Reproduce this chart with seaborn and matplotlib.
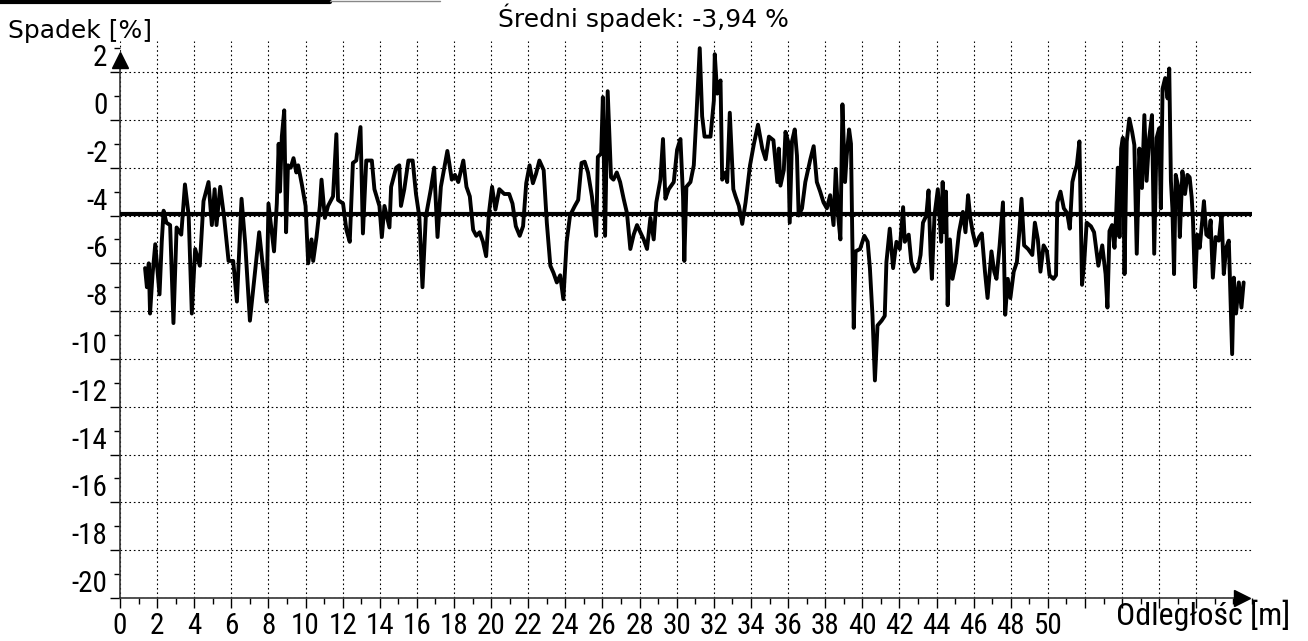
import os
import glob
import matplotlib
matplotlib.use("Agg")
import matplotlib.pyplot as plt
import numpy as np
import pandas as pd
import seaborn as sns
from matplotlib import font_manager
from matplotlib.font_manager import FontProperties
from matplotlib.lines import Line2D
from matplotlib.ticker import MultipleLocator

# ---------------- data ----------------
distance = [
    1.35, 1.45, 1.55, 1.62, 1.75, 1.9, 2.05, 2.13, 2.25, 2.35, 2.5, 2.7, 2.88, 3.05, 3.3, 3.5, 3.7, 3.87,
    4.05, 4.3, 4.5, 4.77, 4.95, 5.1, 5.2, 5.4, 5.6, 5.85, 6.1, 6.3, 6.55, 6.75, 7.0, 7.3, 7.5, 7.9,
    8.0, 8.3, 8.45, 8.55, 8.62, 8.72, 8.85,
    8.95, 9.05, 9.2, 9.35, 9.5, 9.6, 9.8, 10.0, 10.14, 10.32, 10.41, 10.59, 10.77, 10.86, 11.04, 11.21,
    11.48, 11.66, 11.75, 12.02, 12.2, 12.38, 12.55, 12.73, 12.96, 13.09, 13.27, 13.57, 13.71, 13.98,
    14.11, 14.25, 14.52, 14.61, 14.88, 15.05, 15.14, 15.32, 15.54, 15.77, 15.95, 16.13, 16.3, 16.48,
    16.75, 16.93, 17.11, 17.29, 17.64,
    17.88, 18.05, 18.23, 18.5, 18.67, 18.85, 19.03, 19.2, 19.38, 19.56, 19.73, 19.88, 20.05, 20.23,
    20.44, 20.71, 20.97, 21.15, 21.33, 21.54, 21.72, 21.89, 22.07, 22.25, 22.42, 22.6, 22.83, 23.0,
    23.19, 23.36, 23.54, 23.72, 23.89, 24.07, 24.25, 24.51, 24.69, 24.87, 25.04, 25.22, 25.43, 25.66,
    25.75, 25.93, 26.02, 26.14, 26.28, 26.46,
    26.59, 26.77, 26.95, 27.14, 27.32, 27.5, 27.68, 27.86, 28.04, 28.22, 28.4, 28.58, 28.76, 28.9,
    29.12, 29.26, 29.39, 29.57, 29.84, 30.02, 30.2, 30.34, 30.41, 30.52, 30.74, 30.92, 31.06, 31.24,
    31.37, 31.5, 31.82, 32.0, 32.05, 32.18, 32.36, 32.45, 32.63, 32.72, 32.86, 33.05, 33.17, 33.35,
    33.53, 33.71, 33.95, 34.16, 34.38, 34.61, 34.79, 34.97, 35.21, 35.42,
    35.5, 35.59, 35.77, 35.86, 36.0, 36.09, 36.21, 36.36, 36.48, 36.57, 36.75, 36.93, 37.2, 37.38,
    37.55, 37.73, 37.91, 38.09, 38.27, 38.45, 38.57, 38.71, 38.82, 38.93, 39.07, 39.16, 39.29, 39.39,
    39.46, 39.54, 39.64, 39.88, 40.11, 40.29, 40.41, 40.55, 40.68, 40.82, 41.04, 41.21, 41.3, 41.48,
    41.66, 41.84, 42.02, 42.2, 42.29, 42.5, 42.64, 42.82, 43.0, 43.14, 43.27, 43.45, 43.57, 43.68,
    43.75, 43.89, 44.07, 44.25,
    44.33, 44.42, 44.51, 44.6, 44.72, 44.86, 45.04, 45.21, 45.42, 45.56, 45.7, 45.82, 45.95, 46.12,
    46.3, 46.44, 46.61, 46.75, 46.96, 47.11, 47.23, 47.4, 47.58, 47.7, 47.84, 47.98, 48.16, 48.33,
    48.46, 48.58, 48.72, 48.93, 49.16, 49.3, 49.46, 49.6, 49.77, 49.95, 50.09, 50.3, 50.44, 50.51,
    50.68, 50.86, 51.04, 51.18, 51.32, 51.44, 51.56, 51.7, 51.84, 51.96, 52.09, 52.32, 52.49, 52.72,
    52.93,
    53.11, 53.21, 53.32, 53.46, 53.59, 53.68, 53.77, 53.86, 53.95, 54.04, 54.13, 54.25, 54.39, 54.54,
    54.66, 54.79, 54.93, 55.07, 55.2, 55.32, 55.46, 55.61, 55.73, 55.86, 56.0, 56.09, 56.18, 56.32,
    56.45, 56.54, 56.63, 56.71, 56.8, 56.89, 57.04, 57.11, 57.25, 57.39, 57.52, 57.64, 57.75, 57.82,
    57.93, 58.05, 58.18, 58.32, 58.41, 58.54, 58.68, 58.77, 58.89, 59.04, 59.21, 59.36, 59.48, 59.61,
    59.75, 59.93, 60.02, 60.14, 60.29, 60.43, 60.55,
]
slope = [
    -6.2, -7.0, -6.0, -8.1, -6.5, -5.2, -6.6, -7.3, -5.1, -3.8, -4.3, -4.4, -8.5, -4.5, -4.8, -2.7, -4.0, -8.1,
    -5.4, -6.1, -3.4, -2.6, -4.4, -2.9, -4.4, -2.8, -4.0, -5.9, -5.9, -7.6, -3.3, -5.2, -8.4, -6.2, -4.7, -7.6,
    -3.5, -5.5, -3.5, -1.0, -3.0, -0.7, 0.4,
    -4.7, -1.9, -2.0, -1.6, -2.2, -1.9, -2.7, -3.6, -6.0, -5.0, -5.9, -4.9, -3.6, -2.5, -4.1, -3.6,
    -3.2, -0.6, -3.35, -3.5, -4.6, -5.1, -1.8, -1.7, -0.3, -4.75, -1.7, -1.7, -2.9, -3.6,
    -4.9, -3.6, -4.5, -2.8, -2.0, -1.9, -3.6, -2.9, -1.7, -1.7, -3.1, -4.05, -7.0, -4.05,
    -2.9, -2.0, -4.9, -2.8, -1.3,
    -2.5, -2.3, -2.6, -1.7, -2.8, -3.2, -4.6, -4.85, -4.7, -5.1, -5.7, -3.9, -2.8, -3.75,
    -2.9, -3.1, -3.1, -3.5, -4.45, -4.85, -4.45, -2.65, -1.9, -2.65, -2.25, -1.7, -2.1, -4.3,
    -6.1, -6.4, -6.8, -6.5, -7.5, -5.1, -4.0, -3.6, -3.35, -1.8, -1.75, -2.2, -3.2, -4.85,
    -1.55, -1.4, 0.95, -4.85, 1.2, -2.4,
    -2.5, -2.2, -2.6, -3.3, -3.9, -5.4, -4.8, -4.4, -4.7, -5.0, -5.4, -4.1, -5.0, -3.45,
    -2.5, -0.8, -3.3, -2.9, -2.6, -1.25, -0.8, -3.2, -5.9, -2.8, -2.6, -1.9, 0.15, 3.0,
    0.15, -0.7, -0.7, 0.8, 2.75, 1.1, 1.65, -2.5, -2.2, -2.6, 0.3, -2.9, -3.2, -3.6,
    -4.35, -3.45, -1.9, -1.0, -0.2, -1.2, -1.65, -0.7, -0.85, -2.6,
    -1.2, -2.75, -2.1, -0.5, -0.9, -4.3, -0.9, -0.4, -1.5, -4.0, -3.7, -2.6, -1.65, -1.1,
    -2.6, -3.0, -3.45, -3.7, -3.15, -4.4, -2.05, -4.1, -5.0, 0.65, -2.6, -1.5, -0.4, -1.0,
    -4.85, -8.7, -5.5, -5.4, -4.85, -5.1, -6.2, -8.2, -10.9, -8.6, -8.4, -8.2, -5.95, -4.55,
    -6.2, -5.1, -5.4, -3.65, -5.1, -4.8, -5.95, -6.35, -6.2, -5.65, -4.3, -4.0, -2.95, -5.65,
    -6.65, -4.0, -2.9, -5.1,
    -2.6, -4.7, -3.0, -7.75, -5.0, -6.65, -5.95, -4.7, -3.85, -4.7, -3.15, -4.1, -4.7, -5.25,
    -4.9, -4.75, -6.35, -7.45, -5.5, -6.35, -6.65, -5.25, -3.45, -8.15, -6.65, -7.45, -6.35, -5.95,
    -4.7, -3.3, -5.25, -5.4, -5.65, -4.3, -5.0, -6.35, -5.25, -5.5, -6.5, -6.65, -6.5, -3.45,
    -3.0, -3.7, -3.9, -4.55, -2.6, -2.2, -1.9, -0.9, -6.9, -5.95, -4.3, -4.45, -4.7, -6.1,
    -5.25,
    -6.45, -7.85, -4.65, -4.4, -5.35, -3.95, -2.0, -4.9, -1.2, -0.75, -6.45, -0.9, 0.05, -0.5,
    -1.05, -5.6, -1.2, -2.85, 0.2, -2.55, -0.75, 0.2, -5.6, -0.75, -0.35, -3.7, 1.3, 1.75,
    0.9, 2.15, -2.55, -3.7, -6.45, -2.3, -2.85, -4.9, -2.15, -3.1, -2.3, -2.4, -3.25, -4.2,
    -7.0, -4.8, -5.35, -4.2, -3.4, -4.8, -4.9, -4.2, -6.6, -4.9, -5.05, -3.95, -6.45, -5.35,
    -5.05, -9.8, -6.6, -8.1, -6.8, -7.85, -6.8,
]
mean_slope = -3.94
title_text = "Średni spadek: -3,94 %"
y_label_text = "Spadek [%]"
x_label_text = "Odległość [m]"
x_major_ticks = list(range(0, 60, 2))
x_tick_labels = [str(v) if v <= 50 else "" for v in x_major_ticks]
y_major_ticks = list(range(-20, 3, 2))
y_tick_labels = [str(v) for v in y_major_ticks]


# ---------------- fonts ----------------
def find_condensed():
    entries = font_manager.fontManager.ttflist
    prefs = ["Liberation Sans Narrow", "Roboto Condensed", "Arial Narrow", "Open Sans Condensed",
             "Noto Sans Condensed", "DejaVu Sans Condensed", "Nimbus Sans Narrow"]

    def regular(f):
        return f.style == "normal" and f.weight in (400, "normal", "regular", "book")

    for p in prefs:
        for f in entries:
            if f.name == p and regular(f):
                return f.fname
    for f in entries:
        st = f.stretch
        cond = st in ("condensed", "semi-condensed", "extra-condensed") or (isinstance(st, int) and st < 500)
        if cond and regular(f):
            return f.fname
    files = []
    for pat in ("/usr/share/fonts/**/*.ttf", "/usr/share/fonts/**/*.otf",
                "/usr/local/share/fonts/**/*.ttf", os.path.expanduser("~/.fonts/**/*.ttf")):
        files += glob.glob(pat, recursive=True)
    for fn in files:
        low = os.path.basename(fn).lower()
        if ("condensed" in low or "narrow" in low) and not any(
                k in low for k in ("bold", "italic", "light", "thin", "black", "medium", "semi", "extra", "oblique")):
            return fn
    return None


sns.set_theme(style="white")
plt.rcParams["font.family"] = ["DejaVu Sans"]
cond_file = find_condensed()
if cond_file:
    tick_fp = FontProperties(fname=cond_file, size=21)
    xlab_fp = FontProperties(fname=cond_file, size=23)
else:
    tick_fp = FontProperties(family="Liberation Sans", size=17)
    xlab_fp = FontProperties(family="Liberation Sans", size=18)

W, H = 1308, 641
fig = plt.figure(figsize=(W / 100, H / 100), dpi=100)
fig.patch.set_facecolor("white")
ax_left, ax_right, ax_bottom, ax_top = 120, 1252, 598, 41
ax = fig.add_axes([ax_left / W, 1 - ax_bottom / H, (ax_right - ax_left) / W, (ax_bottom - ax_top) / H])
ax.set_facecolor("white")

df = pd.DataFrame({"Odległość": distance, "Spadek": slope})
sns.lineplot(data=df, x="Odległość", y="Spadek", sort=False, estimator=None,
             color="black", linewidth=2.8, ax=ax, zorder=4)
ax.axhline(mean_slope, color="black", linewidth=3.0, zorder=5)

ax.set_xlim(0, 61)
ax.set_ylim(-20, 3.3)
ax.set_xlabel("")
ax.set_ylabel("")

ax.set_xticks(x_major_ticks, labels=x_tick_labels, fontproperties=tick_fp)
ax.set_yticks(y_major_ticks, labels=y_tick_labels, fontproperties=tick_fp, va="bottom")
ax.xaxis.set_minor_locator(MultipleLocator(1))
ax.yaxis.set_minor_locator(MultipleLocator(1))
ax.tick_params(axis="both", which="major", direction="out", length=7, width=1,
               color="black", labelcolor="black", bottom=True, left=True)
ax.tick_params(axis="both", which="minor", direction="out", length=4, width=1,
               color="black", bottom=True, left=True)
ax.tick_params(axis="x", which="major", pad=3)
ax.tick_params(axis="y", which="major", pad=2)

ax.grid(True, which="major", color="black", linestyle=(0, (1.5, 2.5)), linewidth=0.8)
ax.set_axisbelow(True)

for s in ("top", "right"):
    ax.spines[s].set_visible(False)
for s in ("left", "bottom"):
    ax.spines[s].set_color("#333333")
    ax.spines[s].set_linewidth(1.2)
ax.spines["left"].set_bounds(-20, 2.4)
ax.spines["bottom"].set_bounds(0, 60.2)

# axis arrows
ax.plot([0], [2.5], marker="^", markersize=11, color="black", clip_on=False, zorder=6)
ax.plot([60.45], [-20], marker=">", markersize=12, color="black", clip_on=False, zorder=6)

# texts
fig.text(643 / W, 1 - 27 / H, title_text, ha="center", va="baseline", fontsize=18,
         color="black", family=["DejaVu Sans"])
fig.text(8 / W, 1 - 38 / H, y_label_text, ha="left", va="baseline", fontsize=18,
         color="black", family=["DejaVu Sans"])
fig.text(1290 / W, 1 - 625 / H, x_label_text, ha="right", va="baseline",
         fontproperties=xlab_fp, color="black")

# scan border remnant at the top left
fig.add_artist(Line2D([0, 330 / W], [1 - 2 / H, 1 - 2 / H], color="black", linewidth=3))
fig.add_artist(Line2D([330 / W, 440 / W], [1 - 1 / H, 1 - 1 / H], color="#888888", linewidth=1))

fig.savefig("out.png", dpi=100, facecolor="white")
